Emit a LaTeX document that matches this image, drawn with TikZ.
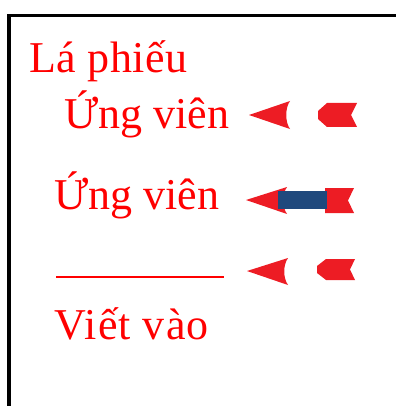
\documentclass[tikz,border=0pt]{standalone}
\usepackage{fontspec}
\setmainfont{Liberation Serif}
\definecolor{arrowred}{RGB}{237,28,36}
\definecolor{shaftblue}{RGB}{31,73,125}

\tikzset{every picture/.style={line width=0.75pt}}

\begin{document}
\begin{tikzpicture}[x=0.75pt,y=0.75pt,yscale=-1,xscale=1,
  ballot/.style={anchor=base west,inner sep=0pt,text=red,font=\fontsize{33}{40}\selectfont},
  head/.style={fill=arrowred,draw=none},
  feather/.style={fill=arrowred,draw=none}]
\useasboundingbox (0,0) rectangle (396,406);

%Frame
\draw [line width=2.5]  (9,406) -- (9,15.5) -- (396,15.5) ;

%Shape: Arrowhead [row 1]
\fill [head] (249,115) -- (290,101) .. controls (285,108) and (285,122) .. (290,129) -- cycle ;
%Shape: Feather [row 1]
\fill [feather] (327,103) -- (357,103) -- (351,115) -- (357,127) -- (327,127) -- (318,119) -- (318,111) -- cycle ;

%Shape: Arrowhead [row 2]
\fill [head] (246,200) -- (287,187) .. controls (282,194) and (282,207) .. (287,214) -- cycle ;
%Shape: Feather [row 2]
\fill [feather] (325,188) -- (354,188) -- (348,200.5) -- (354,213) -- (325,213) -- cycle ;
%Shape: Shaft [row 2]
\fill [shaftblue] (278,191) rectangle (327,209) ;

%Shape: Arrowhead [row 3]
\fill [head] (247,271) -- (288,258) .. controls (283,265) and (283,278) .. (288,285) -- cycle ;
%Shape: Feather [row 3]
\fill [feather] (326,259) -- (355,259) -- (350,269.5) -- (355,280) -- (326,280) -- (317,273) -- (317,266) -- cycle ;

%Straight Lines [write-in]
\draw [red,line width=1.1]  (56,277) -- (224,277) ;

% Text Node
\node [ballot] (title) at (29,73) {\addfontfeature{LetterSpace=1}Lá phiếu};
% Text Node
\node [ballot] (candA) at (64,128) {Ứng viên};
% Text Node
\node [ballot] (candB) at (54,209) {Ứng viên};
% Text Node
\node [ballot] (writein) at (54,339) {\addfontfeature{LetterSpace=2.5}Viết vào};

\end{tikzpicture}
\end{document}
